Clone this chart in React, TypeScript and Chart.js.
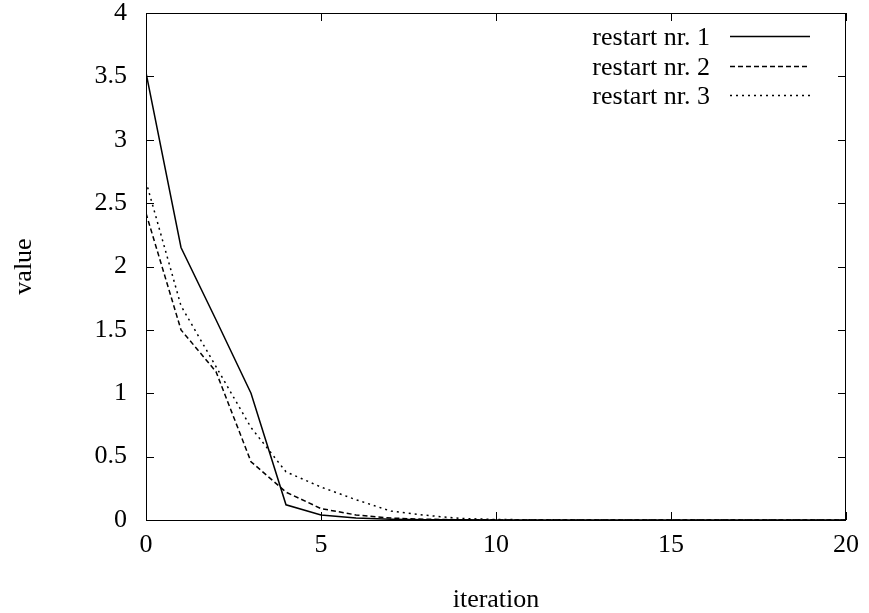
import React, { useEffect, useRef } from "react";
import { Chart, registerables } from "chart.js";

Chart.register(...registerables);

const iterations = [0, 1, 2, 3, 4, 5, 6, 7, 8, 9, 10, 11, 12, 13, 14, 15, 16, 17, 18, 19, 20];
const restart1 = [3.53, 2.15, 1.58, 1.0, 0.12, 0.04, 0.015, 0.006, 0.002, 0.001, 0.0005, 0, 0, 0, 0, 0, 0, 0, 0, 0, 0];
const restart2 = [2.42, 1.5, 1.17, 0.46, 0.22, 0.09, 0.04, 0.015, 0.006, 0.002, 0.001, 0.0005, 0, 0, 0, 0, 0, 0, 0, 0, 0];
const restart3 = [2.67, 1.69, 1.21, 0.73, 0.38, 0.26, 0.16, 0.07, 0.037, 0.012, 0.004, 0.002, 0.001, 0, 0, 0, 0, 0, 0, 0, 0];
const seriesLabels = ["restart nr. 1", "restart nr. 2", "restart nr. 3"];
const xTitle = "iteration";
const yTitle = "value";

const FONT = "'Liberation Serif', 'Times New Roman', serif";

const framePlugin = {
  id: "gnuplotFrame",
  afterDraw(chart: any) {
    const { ctx, chartArea } = chart;
    const { left, right, top, bottom } = chartArea;
    const xs = chart.scales.x;
    const ys = chart.scales.y;
    const tl = 8;
    ctx.save();
    ctx.strokeStyle = "#000";
    ctx.lineWidth = 1;
    ctx.setLineDash([]);
    ctx.strokeRect(left + 0.5, top + 0.5, right - left - 1, bottom - top);
    ctx.beginPath();
    xs.ticks.forEach((t: any) => {
      const px = Math.round(xs.getPixelForValue(t.value)) + 0.5;
      ctx.moveTo(px, bottom);
      ctx.lineTo(px, bottom - tl);
      ctx.moveTo(px, top);
      ctx.lineTo(px, top + tl);
    });
    ys.ticks.forEach((t: any) => {
      const py = Math.round(ys.getPixelForValue(t.value)) + 0.5;
      ctx.moveTo(left, py);
      ctx.lineTo(left + tl, py);
      ctx.moveTo(right, py);
      ctx.lineTo(right - tl, py);
    });
    ctx.stroke();

    // legend inside top right
    const textRight = right - 136;
    const sx0 = right - 116;
    const sx1 = right - 36;
    const rowH = 29.5;
    const y0 = top + 23;
    ctx.font = `26px ${FONT}`;
    ctx.fillStyle = "#000";
    ctx.textAlign = "right";
    ctx.textBaseline = "middle";
    chart.data.datasets.forEach((ds: any, i: number) => {
      const y = y0 + i * rowH;
      ctx.fillText(ds.label, textRight, y + 2.5);
      ctx.beginPath();
      ctx.lineWidth = ds.borderWidth;
      ctx.setLineDash(ds.borderDash || []);
      ctx.moveTo(sx0, Math.round(y) + 0.5);
      ctx.lineTo(sx1, Math.round(y) + 0.5);
      ctx.stroke();
    });
    ctx.restore();
  },
};

export default function App() {
  const ref = useRef<HTMLCanvasElement | null>(null);

  useEffect(() => {
    document.body.style.margin = "0";
    const canvas = ref.current;
    if (!canvas) return;
    const mk = (vals: number[]) => iterations.map((x, i) => ({ x, y: vals[i] }));
    const common = {
      borderColor: "#000",
      backgroundColor: "#000",
      borderWidth: 1.5,
      pointRadius: 0,
      fill: false,
      tension: 0,
    };
    const chart = new Chart(canvas, {
      type: "line",
      data: {
        datasets: [
          { ...common, label: seriesLabels[0], data: mk(restart1), borderDash: [] },
          { ...common, label: seriesLabels[1], data: mk(restart2), borderDash: [5, 3] },
          { ...common, label: seriesLabels[2], data: mk(restart3), borderDash: [2, 4] },
        ],
      },
      options: {
        animation: false,
        responsive: false,
        maintainAspectRatio: false,
        devicePixelRatio: 1,
        layout: { padding: { top: 13, right: 23, left: 0, bottom: 0 } },
        plugins: {
          legend: { display: false },
          tooltip: { enabled: false },
          title: { display: false },
        },
        scales: {
          x: {
            type: "linear",
            min: 0,
            max: 20,
            ticks: {
              stepSize: 5,
              color: "#000",
              padding: 12,
              font: { family: FONT, size: 26, lineHeight: 1 },
              maxRotation: 0,
            },
            grid: { display: false, drawTicks: false },
            border: { display: false },
            title: {
              display: true,
              text: xTitle,
              color: "#000",
              font: { family: FONT, size: 26, lineHeight: 1 },
              padding: { top: 0, bottom: 0 },
            },
            afterFit(scale: any) {
              scale.height = 93;
              scale.paddingLeft = 0;
              scale.paddingRight = 0;
            },
          },
          y: {
            type: "linear",
            min: 0,
            max: 4,
            ticks: {
              stepSize: 0.5,
              color: "#000",
              padding: 19,
              font: { family: FONT, size: 26, lineHeight: 1 },
              callback: (v: any) => String(Number(v)),
            },
            grid: { display: false, drawTicks: false },
            border: { display: false },
            title: {
              display: true,
              text: yTitle,
              color: "#000",
              font: { family: FONT, size: 26, lineHeight: 1 },
              padding: { top: 11, bottom: 0 },
            },
            afterFit(scale: any) {
              scale.width = 146;
              scale.paddingTop = 0;
              scale.paddingBottom = 0;
            },
          },
        },
      },
      plugins: [framePlugin],
    });
    return () => chart.destroy();
  }, []);

  return (
    <div style={{ position: "absolute", left: 0, top: 0, width: 869, height: 613, background: "#fff" }}>
      <canvas ref={ref} width={869} height={613} style={{ width: 869, height: 613, display: "block" }} />
    </div>
  );
}
